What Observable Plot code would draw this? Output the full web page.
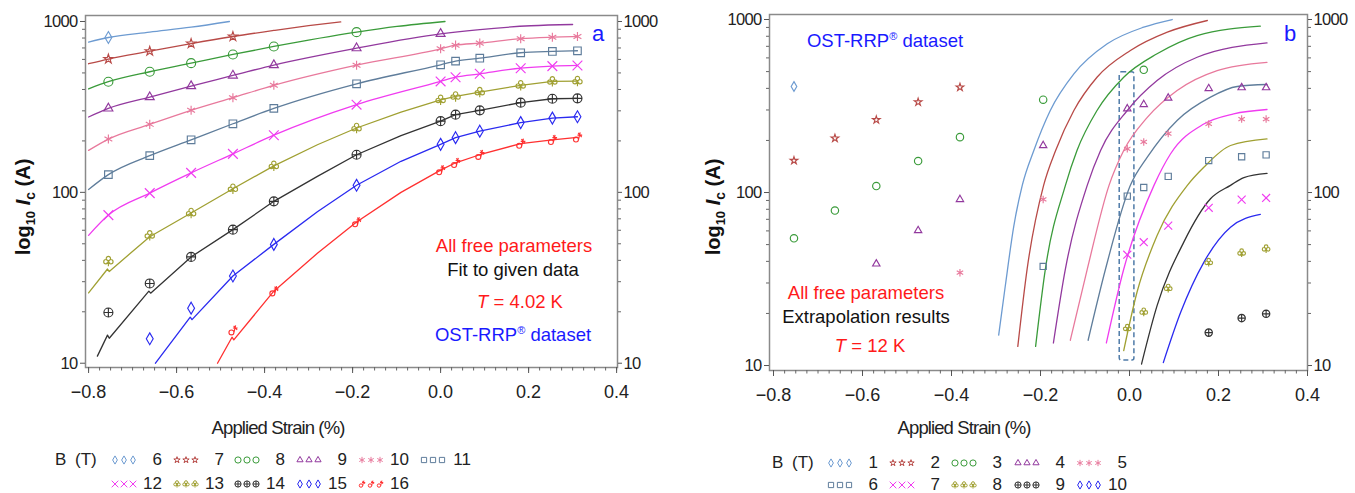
<!DOCTYPE html>
<html><head><meta charset="utf-8">
<script src="https://cdn.jsdelivr.net/npm/d3@7"></script>
<script src="https://cdn.jsdelivr.net/npm/@observablehq/plot@0.6"></script>
<style>
body{margin:0;background:#fff;}
#wrap{position:relative;width:1355px;height:493px;overflow:hidden;background:#fff;font-family:"Liberation Sans",Arial,sans-serif;}
.panel{position:absolute;top:0;}
.panel svg{overflow:visible;}
.panel [aria-label="y-axis tick label"]{font-size:16.5px;letter-spacing:-0.7px;}
.panel [aria-label="x-axis tick label"]{font-size:18px;}
.leg{position:absolute;font-size:17px;color:#222;line-height:16px;height:16px;white-space:nowrap;}
</style></head><body><div id="wrap"></div>
<script>
// ---------- shared tick labels ----------
const xMajor = [-0.8, -0.6, -0.4, -0.2, 0.0, 0.2, 0.4];
const yMajor = [10, 100, 1000];
const yMinor = [20, 30, 40, 50, 60, 70, 80, 90, 200, 300, 400, 500, 600, 700, 800, 900];

// ---------- panel a : T = 4.02 K, fit ----------
const fieldsA = [6, 7, 8, 9, 10, 11, 12, 13, 14, 15, 16];
const strainA = [-0.755, -0.661, -0.567, -0.472, -0.379, -0.191, 0.0, 0.034, 0.089, 0.182, 0.254, 0.311];
const markersA = [
  [806, null, null, null, null, null, null, null, null, null, null, null],
  [603, 670, 743, 817, null, null, null, null, null, null, null, null],
  [444, 508, 570, 641, 714, 866, null, null, null, null, null, null],
  [310, 361, 419, 483, 556, 698, 847, null, null, null, null, null],
  [205, 250, 302, 358, 423, 555, 692, 727, 747, 793, 809, 817],
  [127, 164, 203, 252, 310, 432, 558, 586, 610, 656, 668, 674],
  [73.6, 99, 130, 168, 216, 326, 446, 472, 494, 533, 548, 553],
  [39.6, 56, 75.7, 105, 143, 238, 348, 364, 386, 423, 446, 448],
  [19.8, 29.3, 41.9, 60.5, 88.6, 166, 261, 285, 302, 335, 353, 355],
  [null, 13.9, 21, 32.4, 49.6, 110, 191, 209, 228, 256, 272, 277],
  [null, null, null, 15.6, 26.4, 67, 135, 149, 166, 193, 203, 210]
];
const linesA = [
  [[-0.80, 757], [-0.755, 806], [-0.661, 866], [-0.567, 926], [-0.48, 1000]],
  [[-0.80, 566], [-0.755, 603], [-0.661, 670], [-0.567, 743], [-0.472, 817], [-0.379, 886], [-0.30, 945], [-0.227, 995]],
  [[-0.80, 403], [-0.755, 444], [-0.661, 508], [-0.567, 570], [-0.472, 641], [-0.379, 714], [-0.191, 866], [-0.099, 935], [0.01, 1000]],
  [[-0.80, 276], [-0.755, 310], [-0.661, 361], [-0.567, 419], [-0.472, 483], [-0.379, 556], [-0.191, 698], [0.0, 847], [0.083, 894], [0.205, 944], [0.30, 960]],
  [[-0.80, 176], [-0.755, 205], [-0.661, 250], [-0.567, 302], [-0.472, 358], [-0.379, 423], [-0.191, 555], [0.0, 692], [0.034, 727], [0.089, 747], [0.182, 793], [0.254, 809], [0.311, 817]],
  [[-0.80, 104], [-0.755, 127], [-0.661, 164], [-0.567, 203], [-0.472, 252], [-0.379, 310], [-0.191, 432], [0.0, 558], [0.034, 586], [0.089, 610], [0.182, 656], [0.254, 668], [0.311, 674]],
  [[-0.80, 56], [-0.755, 73.6], [-0.661, 99], [-0.567, 130], [-0.472, 168], [-0.379, 216], [-0.191, 326], [0.0, 446], [0.034, 472], [0.089, 494], [0.182, 533], [0.254, 548], [0.311, 553]],
  [[-0.80, 25.8], [-0.757, 35.6], [-0.753, 34.4], [-0.705, 44], [-0.661, 55], [-0.567, 75.7], [-0.472, 105], [-0.379, 143], [-0.28, 190], [-0.191, 238], [-0.09, 295], [0.0, 348], [0.034, 364], [0.089, 386], [0.182, 423], [0.254, 446], [0.311, 448]],
  [[-0.78, 11], [-0.757, 14.6], [-0.753, 14.0], [-0.663, 26.4], [-0.659, 25.7], [-0.567, 41.9], [-0.472, 60.5], [-0.379, 88.6], [-0.28, 124], [-0.191, 166], [-0.09, 215], [0.0, 261], [0.034, 285], [0.089, 302], [0.182, 335], [0.254, 353], [0.311, 355]],
  [[-0.648, 10], [-0.569, 18.6], [-0.565, 18.0], [-0.472, 32.4], [-0.379, 49.6], [-0.28, 77], [-0.191, 110], [-0.09, 152], [0.0, 191], [0.034, 209], [0.089, 228], [0.182, 256], [0.254, 272], [0.311, 277]],
  [[-0.507, 10], [-0.474, 14.2], [-0.470, 13.7], [-0.379, 26.4], [-0.28, 44], [-0.191, 67], [-0.09, 100], [0.0, 135], [0.034, 149], [0.089, 166], [0.182, 193], [0.254, 203], [0.311, 210]]
];
const kinkedA = [false, false, false, false, false, false, false, true, true, true, true];

// ---------- panel b : T = 12 K, extrapolation ----------
const fieldsB = [1, 2, 3, 4, 5, 6, 7, 8, 9, 10];
const strainB = [-0.754, -0.662, -0.569, -0.475, -0.381, -0.194, -0.005, 0.032, 0.087, 0.178, 0.252, 0.307];
const markersB = [
  [410, null, null, null, null, null, null, null, null, null, null, null],
  [153, 206, 263, 333, 406, null, null, null, null, null, null, null],
  [54.4, 78.7, 109, 152, 209, 344, null, 512, null, null, null, null],
  [null, null, 38.7, 60.3, 91.2, 187, 305, 323, 352, 399, 404, 404],
  [null, null, null, null, 34.4, 91.2, 179, 196, 219, 249, 266, 266],
  [null, null, null, null, null, 37.4, 95.3, 107, 124, 153, 161, 165],
  [null, null, null, null, null, null, 43.7, 51.6, 64.4, 81.6, 91, 93],
  [null, null, null, null, null, null, 16.4, 20.4, 28, 39.5, 44.8, 47.3],
  [null, null, null, null, null, null, null, null, null, 15.5, 18.8, 19.9],
  [null, null, null, null, null, null, null, null, null, null, null, null]
];
const linesB = [
  [[-0.294, 15], [-0.279, 29], [-0.26, 64], [-0.241, 110], [-0.215, 175], [-0.178, 298], [-0.125, 485], [-0.05, 724], [0.032, 903], [0.096, 1000]],
  [[-0.251, 12.9], [-0.23, 36.2], [-0.193, 110], [-0.166, 175], [-0.125, 298], [-0.073, 464], [0.002, 662], [0.085, 845], [0.175, 987]],
  [[-0.211, 12.9], [-0.189, 36.2], [-0.144, 110], [-0.118, 175], [-0.073, 298], [-0.013, 464], [0.062, 634], [0.152, 808], [0.294, 915]],
  [[-0.171, 13.5], [-0.144, 36.2], [-0.095, 110], [-0.065, 175], [-0.005, 298], [0.062, 444], [0.152, 605], [0.309, 733]],
  [[-0.133, 14], [-0.095, 36], [-0.046, 110], [-0.013, 175], [0.04, 272], [0.107, 389], [0.197, 507], [0.309, 566]],
  [[-0.093, 14], [-0.054, 36], [0.002, 110], [0.04, 160], [0.107, 261], [0.182, 356], [0.242, 410], [0.309, 421]],
  [[-0.052, 13.5], [-0.013, 36], [0.055, 110], [0.092, 167], [0.167, 249], [0.234, 285], [0.309, 302]],
  [[-0.013, 12.2], [0.017, 26.6], [0.062, 56.4], [0.13, 110], [0.167, 140], [0.227, 187], [0.309, 204]],
  [[0.027, 10.2], [0.062, 22.2], [0.122, 51.7], [0.182, 92], [0.227, 110], [0.257, 122], [0.309, 129]],
  [[0.076, 10.4], [0.115, 20.3], [0.167, 39.5], [0.227, 63], [0.294, 74.7]]
];
const boxStrainB = [-0.022, 0.011];
const boxIcB = [10.7, 495];

// ---------- styles ----------
const FONT = '"Liberation Sans", Arial, Helvetica, sans-serif';
const colors = ["#6d9bd1", "#b84a47", "#3a9b3a", "#92399e", "#e8799c", "#5f7d9b", "#f03cf0", "#a0a032", "#333333", "#2a2af0", "#ff3030"];
const symbolNames = ["diamond", "star", "circle", "triangle", "asterisk", "square", "times", "club", "circlePlus", "diamond", "dCross"];

const club = {draw(ctx, size) {
  const r = Math.sqrt(size / Math.PI), c = r * 0.42;
  for (const [x, y] of [[0, -r * 0.5], [-r * 0.48, r * 0.12], [r * 0.48, r * 0.12]]) {
    ctx.moveTo(x + c, y); ctx.arc(x, y, c, 0, 2 * Math.PI);
  }
  ctx.moveTo(0, -r * 0.15); ctx.lineTo(0, r * 1.0);
  ctx.moveTo(-r * 0.35, r * 0.35); ctx.lineTo(r * 0.35, r * 0.35);
}};
const circlePlus = {draw(ctx, size) {
  const r = Math.sqrt(size / Math.PI);
  ctx.moveTo(r, 0); ctx.arc(0, 0, r, 0, 2 * Math.PI);
  ctx.moveTo(-r, 0); ctx.lineTo(r, 0); ctx.moveTo(0, -r); ctx.lineTo(0, r);
}};
const dCross = {draw(ctx, size) {
  const r = Math.sqrt(size / Math.PI), cr = r * 0.5;
  ctx.moveTo(-r * 0.3 + cr, r * 0.45); ctx.arc(-r * 0.3, r * 0.45, cr, 0, 2 * Math.PI);
  ctx.moveTo(r * 0.2, r * 0.5); ctx.lineTo(r * 0.55, -r);
  ctx.moveTo(r * 0.0, -r * 0.45); ctx.lineTo(r * 0.95, -r * 0.45);
  ctx.moveTo(r * 0.15, -r * 0.9); ctx.lineTo(r * 0.85, -r * 0.05);
}};
const SYM = {diamond: d3.symbolDiamond, star: d3.symbolStar, circle: d3.symbolCircle, triangle: d3.symbolTriangle2,
  asterisk: d3.symbolAsterisk, square: d3.symbolSquare, times: d3.symbolTimes, club, circlePlus, dCross};
const RSCALE = {diamond: 0.8, star: 0.64, triangle: 0.95, asterisk: 0.95, square: 0.95, club: 1.15, dCross: 1.1};

function rich(svg, x, y, parts, o = {}) {
  const size = o.size || 18.5;
  const t = d3.select(svg).append("text")
    .attr("transform", `translate(${x},${y})` + (o.rotate ? ` rotate(${o.rotate})` : ""))
    .attr("y", size * 0.36)
    .attr("text-anchor", o.anchor || "middle")
    .attr("font-family", FONT).attr("font-size", size)
    .attr("font-weight", o.weight || "normal")
    .attr("fill", o.fill || "#111");
  if (o.spacing) t.attr("letter-spacing", o.spacing);
  for (const p of parts) {
    const s = t.append("tspan").text(p.t);
    if (p.italic) s.attr("font-style", "italic");
    if (p.dy) s.attr("dy", p.dy);
    if (p.size) s.attr("font-size", p.size);
  }
}

function panel(cfg) {
  const n = cfg.lines.length;
  const marks = [
    Plot.frame({stroke: "#8a8a8a", strokeWidth: 1.5}),
    Plot.axisX({anchor: "bottom", ticks: d3.range(-0.8, 0.4001, 0.025), tickSize: 3.5, tickFormat: () => "", label: null, stroke: "#666"}),
    Plot.axisX({anchor: "bottom", ticks: xMajor, tickSize: 6, tickPadding: 12, tickFormat: d3.format(".1f"), label: null, stroke: "#555", fill: "#222"}),
    Plot.axisY({anchor: "left", ticks: yMinor, tickSize: 3, tickFormat: () => "", label: null, stroke: "#666"}),
    Plot.axisY({anchor: "left", ticks: yMajor, tickSize: 5, tickPadding: 3, tickFormat: d3.format("d"), label: null, stroke: "#555", fill: "#222"}),
    Plot.axisY({anchor: "right", ticks: yMinor, tickSize: 3, tickFormat: () => "", label: null, stroke: "#666"}),
    Plot.axisY({anchor: "right", ticks: yMajor, tickSize: 4, tickPadding: 2, tickFormat: d3.format("d"), label: null, stroke: "#555", fill: "#222"})
  ];
  if (cfg.box) {
    marks.push(Plot.rect([{x1: cfg.box[0][0], x2: cfg.box[0][1], y1: cfg.box[1][0], y2: cfg.box[1][1]}],
      {x1: "x1", x2: "x2", y1: "y1", y2: "y2", fill: "none", stroke: "#4f7ba8", strokeWidth: 1.5, strokeDasharray: "5,3", rx: 2}));
  }
  for (let i = 0; i < n; i++) {
    const kinked = cfg.kinked && cfg.kinked[i];
    marks.push(Plot.line(cfg.lines[i], {x: d => d[0], y: d => d[1], stroke: colors[i], strokeWidth: 1.3, curve: kinked ? "linear" : "monotone-x"}));
  }
  for (let i = 0; i < n; i++) {
    const data = cfg.strain.map((s, j) => ({s, v: cfg.markers[i][j]})).filter(d => d.v != null);
    if (!data.length) continue;
    const nm = symbolNames[i];
    marks.push(Plot.dot(data, {x: "s", y: "v", symbol: SYM[nm], r: cfg.r * (RSCALE[nm] || 1), stroke: colors[i], fill: "none", strokeWidth: 1.15}));
  }
  const svg = Plot.plot({
    width: cfg.width, height: 440,
    marginLeft: 85, marginRight: cfg.mr, marginTop: cfg.mt, marginBottom: 440 - cfg.bottom,
    x: {type: "linear", domain: cfg.xd},
    y: {type: "log", domain: cfg.yd},
    style: {fontFamily: FONT, fontSize: "18px", color: "#222", background: "transparent", overflow: "visible"},
    marks
  });
  const div = document.createElement("div");
  div.className = "panel";
  div.style.left = cfg.left + "px";
  div.appendChild(svg);
  document.getElementById("wrap").appendChild(div);
  rich(svg, cfg.xlab[0], 427, [{t: "Applied Strain (%)"}], {size: 18.5, fill: "#222", spacing: -0.9});
  rich(svg, cfg.ylab[0], cfg.ylab[1], [
    {t: "log"}, {t: "10", size: 13, dy: 5}, {t: " ", dy: -5}, {t: "I", italic: true}, {t: "c", size: 14, dy: 5}, {t: " (A)", dy: -5}
  ], {size: 20, weight: "bold", rotate: -90, fill: "#111"});
  rich(svg, cfg.letter[0], cfg.letter[1], [{t: cfg.letter[2]}], {size: 22, fill: "#1a1aff"});
  for (const a of cfg.notes) rich(svg, a.x, a.y, a.parts, {size: 18.5, fill: a.fill});
  return svg;
}

function legend(items, labelX, cols, rows) {
  const wrap = document.getElementById("wrap");
  const bt = document.createElement("div");
  bt.className = "leg"; bt.textContent = "B (T)";
  bt.style.left = labelX + "px"; bt.style.top = (rows[0] - 8) + "px"; bt.style.wordSpacing = "4px";
  wrap.appendChild(bt);
  items.forEach((it, k) => {
    const c = k % cols.length, r = Math.floor(k / cols.length);
    const x = cols[c], y = rows[r];
    const s = d3.create("svg").attr("width", 28).attr("height", 12)
      .style("position", "absolute").style("left", x + "px").style("top", (y - 6) + "px").style("overflow", "visible");
    const nm = it.sym, rr = 3.1 * (RSCALE[nm] || 1);
    for (const dx of [3, 12, 21]) {
      s.append("path").attr("d", d3.symbol(SYM[nm], Math.PI * rr * rr)())
        .attr("transform", `translate(${dx},6)`).attr("fill", "none").attr("stroke", it.color).attr("stroke-width", 1);
    }
    wrap.appendChild(s.node());
    const lab = document.createElement("div");
    lab.className = "leg"; lab.textContent = it.label;
    lab.style.left = (x + 20) + "px"; lab.style.width = "30px"; lab.style.textAlign = "right";
    lab.style.top = (y - 8) + "px";
    wrap.appendChild(lab);
  });
}

panel({
  left: 0, width: 677, mr: 60, mt: 15, bottom: 367,
  xd: [-0.807, 0.402], yd: [9.44, 1084], r: 4.5,
  strain: strainA, markers: markersA, lines: linesA, kinked: kinkedA,
  xlab: [278], ylab: [23, 207], letter: [598, 33, "a"],
  notes: [
    {x: 514, y: 245, fill: "#ff1a1a", parts: [{t: "All free parameters"}]},
    {x: 513, y: 269, fill: "#111", parts: [{t: "Fit to given data"}]},
    {x: 520, y: 301, fill: "#ff1a1a", parts: [{t: "T", italic: true}, {t: " = 4.02 K"}]},
    {x: 513, y: 334, fill: "#1a1aff", parts: [{t: "OST-RRP"}, {t: "®", size: 11, dy: -7}, {t: " dataset", dy: 7}]}
  ]
});
panel({
  left: 684, width: 671, mr: 48, mt: 14, bottom: 370,
  xd: [-0.809, 0.4], yd: [9.36, 1069], r: 3.7,
  strain: strainB, markers: markersB, lines: linesB, box: [boxStrainB, boxIcB],
  xlab: [280], ylab: [29, 207], letter: [606, 33, "b"],
  notes: [
    {x: 201, y: 40, fill: "#1a1aff", parts: [{t: "OST-RRP"}, {t: "®", size: 11, dy: -7}, {t: " dataset", dy: 7}]},
    {x: 182, y: 292, fill: "#ff1a1a", parts: [{t: "All free parameters"}]},
    {x: 182, y: 316, fill: "#111", parts: [{t: "Extrapolation results"}]},
    {x: 186, y: 345, fill: "#ff1a1a", parts: [{t: "T", italic: true}, {t: " = 12 K"}]}
  ]
});

legend(fieldsA.map((f, i) => ({label: String(f), color: colors[i], sym: symbolNames[i]})), 55,
  [112, 174, 235, 297, 359, 421], [460, 484]);
legend(fieldsB.map((f, i) => ({label: String(f), color: colors[i], sym: symbolNames[i]})), 772,
  [828, 890, 952, 1015, 1077], [463, 485]);
</script></body></html>
